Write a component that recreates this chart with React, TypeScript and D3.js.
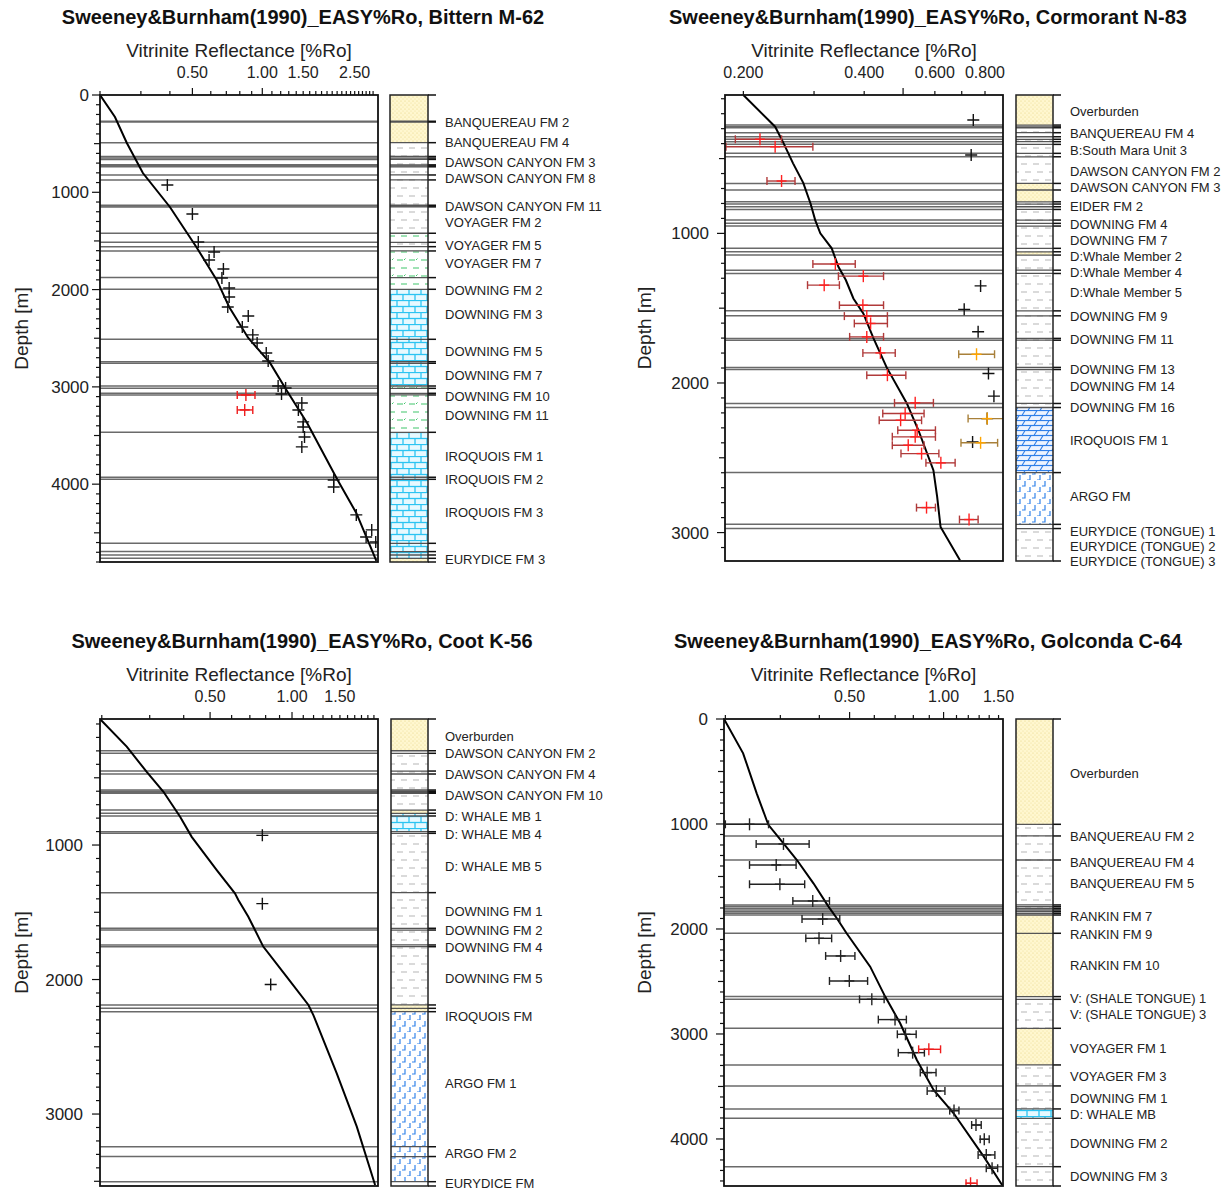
import React from "react";
import * as d3 from "d3";

const FONT = "'Liberation Sans', Arial, sans-serif";

// ---------------- Bittern M-62 ----------------
const bitternModel: [number, number][] = [
  [0, 0.2], [226, 0.232], [493, 0.261], [802, 0.306], [1151, 0.4], [1562, 0.52],
  [1901, 0.636], [2179, 0.72], [2497, 0.87], [2754, 1.08], [3032, 1.27], [3371, 1.56],
  [3957, 2.11], [4296, 2.54], [4789, 3.1],
];
const bitternSamples: [number, number][] = [
  [925, 0.39], [1223, 0.5], [1511, 0.53], [1614, 0.62], [1696, 0.59], [1789, 0.68],
  [1881, 0.67], [1984, 0.72], [2076, 0.72], [2179, 0.71], [2271, 0.87], [2384, 0.82],
  [2466, 0.91], [2549, 0.95], [2652, 1.04], [2734, 1.06], [2991, 1.17], [3011, 1.26],
  [3073, 1.21], [3165, 1.48], [3237, 1.43], [3360, 1.5], [3412, 1.5], [3515, 1.52],
  [3617, 1.48], [3957, 2.03], [4029, 2.03], [4316, 2.54], [4470, 2.96], [4543, 2.8],
  [4594, 3.08],
];
const bitternRed: [number, number, number, number][] = [
  [3083, 0.85, 0.78, 0.93], [3237, 0.84, 0.78, 0.91],
];
const bitternTops = [
  270, 278, 490, 632, 648, 662, 718, 728, 738, 822, 873, 1133, 1141, 1150, 1421, 1514,
  1559, 1603, 1877, 1997, 2511, 2741, 2757, 2991, 3015, 3066, 3083, 3467, 3929, 3950,
  4608, 4693, 4728, 4762,
];
const bitternLith: [number, number, string][] = [
  [0, 490, "sand"], [490, 1421, "shale"], [1421, 1514, "marl"], [1514, 1603, "shale"],
  [1603, 1997, "marl"], [1997, 2991, "lime"], [2991, 3467, "marl"], [3467, 4762, "lime"],
  [4762, 4800, "sand"],
];
const bitternLabels: [string, number][] = [
  ["BANQUEREAU FM 2", 285], ["BANQUEREAU FM 4", 490], ["DAWSON CANYON FM 3", 689],
  ["DAWSON CANYON FM 8", 863], ["DAWSON CANYON FM 11", 1148], ["VOYAGER FM 2", 1312],
  ["VOYAGER FM 5", 1549], ["VOYAGER FM 7", 1727], ["DOWNING FM 2", 2011],
  ["DOWNING FM 3", 2261], ["DOWNING FM 5", 2638], ["DOWNING FM 7", 2878],
  ["DOWNING FM 10", 3101], ["DOWNING FM 11", 3299], ["IROQUOIS FM 1", 3717],
  ["IROQUOIS FM 2", 3950], ["IROQUOIS FM 3", 4296], ["EURYDICE FM 3", 4779],
];

// ---------------- Cormorant N-83 ----------------
const cormorantModel: [number, number][] = [
  [75, 0.2], [287, 0.24], [398, 0.252], [532, 0.266], [662, 0.282], [800, 0.294],
  [911, 0.302], [1000, 0.311], [1100, 0.332], [1223, 0.345], [1312, 0.36], [1435, 0.376],
  [1535, 0.398], [1702, 0.422], [1896, 0.455], [2137, 0.511], [2316, 0.546], [2583, 0.595],
  [2762, 0.608], [2963, 0.62], [3185, 0.693],
];
const cormorantSamples: [number, number][] = [
  [242, 0.748], [476, 0.739], [1351, 0.78], [1508, 0.71], [1658, 0.769], [1937, 0.816],
  [2088, 0.842], [2238, 0.81], [2394, 0.745],
];
const cormorantRed: [number, number, number, number][] = [
  [371, 0.22, 0.191, 0.249], [421, 0.24, 0.181, 0.298], [650, 0.249, 0.229, 0.269],
  [1205, 0.339, 0.298, 0.38], [1286, 0.398, 0.345, 0.447], [1346, 0.318, 0.289, 0.347],
  [1480, 0.397, 0.347, 0.447], [1553, 0.406, 0.357, 0.457], [1602, 0.415, 0.378, 0.457],
  [1692, 0.406, 0.368, 0.447], [1799, 0.439, 0.397, 0.478], [1948, 0.457, 0.406, 0.508],
  [2133, 0.536, 0.476, 0.595], [2204, 0.506, 0.445, 0.564], [2249, 0.493, 0.436, 0.556],
  [2316, 0.542, 0.485, 0.602], [2360, 0.536, 0.47, 0.602], [2416, 0.515, 0.47, 0.564],
  [2472, 0.556, 0.494, 0.614], [2534, 0.621, 0.57, 0.674], [2833, 0.572, 0.54, 0.602],
  [2913, 0.73, 0.691, 0.769],
];
const cormorantOrange: [number, number, number, number][] = [
  [1808, 0.762, 0.688, 0.845], [2238, 0.81, 0.726, 0.95], [2400, 0.78, 0.697, 0.86],
];
const cormorantTops = [
  276, 288, 294, 327, 354, 371, 387, 405, 465, 488, 666, 710, 789, 804, 822, 840, 911,
  933, 951, 1100, 1123, 1145, 1246, 1268, 1518, 1551, 1702, 1714, 1896, 1910, 2137, 2164,
  2599, 2945, 2973,
];
const cormorantLith: [number, number, string][] = [
  [75, 276, "sand"], [276, 666, "shale"], [666, 789, "sand"], [789, 1123, "shale"],
  [1123, 1145, "sand"], [1145, 2164, "shale"], [2164, 2599, "dolo"], [2599, 2945, "salt"],
  [2945, 3190, "shale"],
];
const cormorantLabels: [string, number][] = [
  ["Overburden", 187], ["BANQUEREAU FM 4", 331], ["B:South Mara Unit 3", 448],
  ["DAWSON CANYON FM 2", 588], ["DAWSON CANYON FM 3", 692], ["EIDER FM 2", 822],
  ["DOWNING FM 4", 938], ["DOWNING FM 7", 1045], ["D:Whale Member 2", 1152],
  ["D:Whale Member 4", 1264], ["D:Whale Member 5", 1397], ["DOWNING FM 9", 1558],
  ["DOWNING FM 11", 1709], ["DOWNING FM 13", 1910], ["DOWNING FM 14", 2026],
  ["DOWNING FM 16", 2164], ["IROQUOIS FM 1", 2383], ["ARGO FM", 2762],
  ["EURYDICE (TONGUE) 1", 2996], ["EURYDICE (TONGUE) 2", 3092], ["EURYDICE (TONGUE) 3", 3190],
];

// ---------------- Coot K-56 ----------------
const cootModel: [number, number][] = [
  [63, 0.197], [268, 0.247], [455, 0.292], [604, 0.337], [790, 0.388], [939, 0.428],
  [1186, 0.529], [1359, 0.617], [1409, 0.635], [1533, 0.691], [1607, 0.721], [1755, 0.784],
  [1979, 0.955], [2189, 1.149], [2264, 1.198], [2697, 1.46], [3094, 1.73], [3528, 2.02],
];
const cootSamples: [number, number][] = [[928, 0.778], [1436, 0.778], [2037, 0.835]];
const cootTops = [
  299, 318, 450, 472, 591, 600, 608, 615, 740, 764, 784, 901, 913, 1354, 1619, 1632,
  1743, 1756, 2189, 2214, 2239, 3243, 3316, 3503,
];
const cootLith: [number, number, string][] = [
  [63, 299, "sand"], [299, 740, "shale"], [740, 764, "sand"], [764, 901, "lime"],
  [901, 2189, "shale"], [2189, 2239, "sand"], [2239, 3503, "salt"], [3503, 3535, "shale"],
];
const cootLabels: [string, number][] = [
  ["Overburden", 195], ["DAWSON CANYON FM 2", 318], ["DAWSON CANYON FM 4", 472],
  ["DAWSON CANYON FM 10", 635], ["D: WHALE MB 1", 789], ["D: WHALE MB 4", 918],
  ["D: WHALE MB 5", 1161], ["DOWNING FM 1", 1496], ["DOWNING FM 2", 1632],
  ["DOWNING FM 4", 1763], ["DOWNING FM 5", 1991], ["IROQUOIS FM", 2276],
  ["ARGO FM 1", 2772], ["ARGO FM 2", 3292], ["EURYDICE FM", 3515],
];

// ---------------- Golconda C-64 ----------------
const golcondaModel: [number, number][] = [
  [0, 0.198], [327, 0.228], [708, 0.252], [962, 0.271], [1010, 0.275], [1184, 0.307],
  [1343, 0.339], [1565, 0.383], [1787, 0.428], [1898, 0.455], [2041, 0.489], [2359, 0.582],
  [2644, 0.65], [2898, 0.726], [3248, 0.821], [3533, 0.929], [3755, 1.077], [4168, 1.345],
  [4438, 1.54],
];
const golcondaBlack: [number, number, number, number][] = [
  [1003, 0.239, 0.2, 0.275], [1190, 0.307, 0.251, 0.371], [1390, 0.291, 0.239, 0.337],
  [1574, 0.299, 0.239, 0.359], [1733, 0.381, 0.329, 0.431], [1905, 0.41, 0.352, 0.465],
  [2089, 0.399, 0.362, 0.438], [2257, 0.468, 0.419, 0.52], [2495, 0.499, 0.431, 0.571],
  [2670, 0.589, 0.538, 0.645], [2863, 0.699, 0.618, 0.76], [3003, 0.755, 0.711, 0.817],
  [3178, 0.796, 0.716, 0.868], [3368, 0.886, 0.842, 0.946], [3543, 0.948, 0.886, 1.01],
  [3730, 1.08, 1.046, 1.12], [3867, 1.27, 1.23, 1.32], [4003, 1.35, 1.31, 1.4],
  [4152, 1.37, 1.29, 1.46], [4279, 1.43, 1.37, 1.49],
];
const golcondaRed: [number, number, number, number][] = [
  [3146, 0.897, 0.832, 0.978], [4422, 1.22, 1.18, 1.28],
];
const golcondaTops = [
  1003, 1114, 1343, 1771, 1787, 1803, 1819, 1835, 1851, 1867, 2041, 2644, 2670, 2946,
  3295, 3495, 3714, 3803, 4264,
];
const golcondaLith: [number, number, string][] = [
  [0, 1003, "sand"], [1003, 1867, "shale"], [1867, 2644, "sand"], [2644, 2946, "shale"],
  [2946, 3295, "sand"], [3295, 3714, "shale"], [3714, 3803, "lime"], [3803, 4448, "shale"],
];
const golcondaLabels: [string, number][] = [
  ["Overburden", 517], ["BANQUEREAU FM 2", 1121], ["BANQUEREAU FM 4", 1369],
  ["BANQUEREAU FM 5", 1571], ["RANKIN FM 7", 1883], ["RANKIN FM 9", 2057],
  ["RANKIN FM 10", 2352], ["V: (SHALE TONGUE) 1", 2660], ["V: (SHALE TONGUE) 3", 2819],
  ["VOYAGER FM 1", 3136], ["VOYAGER FM 3", 3407], ["DOWNING FM 1", 3612],
  ["D: WHALE MB", 3771], ["DOWNING FM 2", 4041], ["DOWNING FM 3", 4359],
];

// ---------------- ticks ----------------
const roMinorTicks = d3.range(2, 31).map((i) => i / 10);
const roMajorTicks = [0.5, 1.0];
const roLabels1 = [0.5, 1.0, 1.5, 2.5];
const roLabels2 = [0.2, 0.4, 0.6, 0.8];
const roLabels3 = [0.5, 1.0, 1.5];
const depthLabels1 = [0, 1000, 2000, 3000, 4000];
const depthLabels2 = [1000, 2000, 3000];

type Err = [number, number, number, number];
interface PanelCfg {
  id: string;
  title: string;
  titleX: number;
  titleY: number;
  left: number; right: number; top: number; bottom: number;
  roDomain: [number, number];
  depthDomain: [number, number];
  roLabels: number[];
  roFmt: string;
  depthLabels: number[];
  depthLabelGap: number;
  depthTitleX: number;
  colLeft: number; colRight: number; labelX: number;
  model: [number, number][];
  samples: [number, number][];
  red: Err[];
  redStyle: "dark" | "bright";
  black: Err[];
  orange: Err[];
  tops: number[];
  lith: [number, number, string][];
  labels: [string, number][];
}

const panels: PanelCfg[] = [
  {
    id: "bittern", title: "Sweeney&Burnham(1990)_EASY%Ro, Bittern M-62", titleX: 303, titleY: 24,
    left: 100, right: 378, top: 95, bottom: 562,
    roDomain: [0.2, 3.15], depthDomain: [0, 4800],
    roLabels: roLabels1, roFmt: ".2f", depthLabels: depthLabels1, depthLabelGap: 11, depthTitleX: 28,
    colLeft: 390, colRight: 428, labelX: 445,
    model: bitternModel, samples: bitternSamples, red: bitternRed, redStyle: "bright",
    black: [], orange: [], tops: bitternTops, lith: bitternLith, labels: bitternLabels,
  },
  {
    id: "cormorant", title: "Sweeney&Burnham(1990)_EASY%Ro, Cormorant N-83", titleX: 928, titleY: 24,
    left: 725, right: 1003, top: 95, bottom: 561,
    roDomain: [0.18, 0.887], depthDomain: [75, 3190],
    roLabels: roLabels2, roFmt: ".3f", depthLabels: depthLabels2, depthLabelGap: 16, depthTitleX: 651,
    colLeft: 1016, colRight: 1053, labelX: 1070,
    model: cormorantModel, samples: cormorantSamples, red: cormorantRed, redStyle: "dark",
    black: [], orange: cormorantOrange, tops: cormorantTops, lith: cormorantLith, labels: cormorantLabels,
  },
  {
    id: "coot", title: "Sweeney&Burnham(1990)_EASY%Ro, Coot K-56", titleX: 302, titleY: 648,
    left: 100, right: 378, top: 719, bottom: 1186,
    roDomain: [0.197, 2.07], depthDomain: [63, 3535],
    roLabels: roLabels3, roFmt: ".2f", depthLabels: depthLabels2, depthLabelGap: 17, depthTitleX: 28,
    colLeft: 391, colRight: 428, labelX: 445,
    model: cootModel, samples: cootSamples, red: [], redStyle: "bright",
    black: [], orange: [], tops: cootTops, lith: cootLith, labels: cootLabels,
  },
  {
    id: "golconda", title: "Sweeney&Burnham(1990)_EASY%Ro, Golconda C-64", titleX: 928, titleY: 648,
    left: 724, right: 1003, top: 719, bottom: 1186,
    roDomain: [0.198, 1.55], depthDomain: [0, 4448],
    roLabels: roLabels3, roFmt: ".2f", depthLabels: depthLabels1, depthLabelGap: 16, depthTitleX: 651,
    colLeft: 1016, colRight: 1053, labelX: 1070,
    model: golcondaModel, samples: [], red: golcondaRed, redStyle: "bright",
    black: golcondaBlack, orange: [], tops: golcondaTops, lith: golcondaLith, labels: golcondaLabels,
  },
];

const TEXT = "#222";

function ErrBar({ x, y, d, bar, center }: { x: any; y: any; d: Err; bar: string; center: string }) {
  const cy = y(d[0]);
  const cx = x(d[1]);
  const x0 = x(d[2]);
  const x1 = x(d[3]);
  return (
    <g>
      <line x1={x0} x2={x1} y1={cy} y2={cy} stroke={bar} strokeWidth={1.4} />
      <line x1={x0} x2={x0} y1={cy - 4} y2={cy + 4} stroke={bar} strokeWidth={1.4} />
      <line x1={x1} x2={x1} y1={cy - 4} y2={cy + 4} stroke={bar} strokeWidth={1.4} />
      <line x1={cx - 5} x2={cx + 5} y1={cy} y2={cy} stroke={center} strokeWidth={1.4} />
      <line x1={cx} x2={cx} y1={cy - 6} y2={cy + 6} stroke={center} strokeWidth={1.4} />
    </g>
  );
}

function Panel({ p }: { p: PanelCfg }) {
  const x = d3.scaleLog().domain(p.roDomain).range([p.left, p.right]);
  const y = d3.scaleLinear().domain(p.depthDomain).range([p.top, p.bottom]);
  const line = d3
    .line<[number, number]>()
    .x((d) => x(d[1]))
    .y((d) => y(d[0]));
  const clipId = `clip-${p.id}`;
  const fmt = d3.format(p.roFmt);
  const minor = roMinorTicks.filter((v) => v >= p.roDomain[0] && v <= p.roDomain[1]);
  const dTicks = d3
    .range(Math.ceil(p.depthDomain[0] / 100) * 100, p.depthDomain[1] + 1, 100)
    .filter((d) => d >= p.depthDomain[0]);
  const midY = (p.top + p.bottom) / 2;
  const midX = (p.left + p.right) / 2;
  const fills: Record<string, string> = {
    sand: "url(#pat-sand)",
    shale: "url(#pat-shale)",
    marl: "url(#pat-marl)",
    lime: "url(#pat-lime)",
    dolo: "url(#pat-dolo)",
    salt: "url(#pat-salt)",
  };
  return (
    <g>
      <defs>
        <clipPath id={clipId}>
          <rect x={p.left} y={p.top} width={p.right - p.left} height={p.bottom - p.top} />
        </clipPath>
      </defs>
      <text x={p.titleX} y={p.titleY} textAnchor="middle" fontFamily={FONT} fontWeight="bold" fontSize={20} fill="#111">
        {p.title}
      </text>
      <text x={midX} y={p.top - 38} textAnchor="middle" fontFamily={FONT} fontSize={19} fill={TEXT}>
        Vitrinite Reflectance [%Ro]
      </text>
      {p.roLabels.map((v) => (
        <text key={v} x={x(v)} y={p.top - 17} textAnchor="middle" fontFamily={FONT} fontSize={16} fill={TEXT}>
          {fmt(v)}
        </text>
      ))}
      <text
        transform={`translate(${p.depthTitleX},${midY}) rotate(-90)`}
        textAnchor="middle"
        fontFamily={FONT}
        fontSize={19}
        fill={TEXT}
      >
        Depth [m]
      </text>
      {p.depthLabels.map((d) => (
        <text key={d} x={p.left - p.depthLabelGap} y={y(d) + 6} textAnchor="end" fontFamily={FONT} fontSize={17} fill={TEXT}>
          {d}
        </text>
      ))}
      <rect x={p.left} y={p.top} width={p.right - p.left} height={p.bottom - p.top} fill="#fff" />
      <g clipPath={`url(#${clipId})`}>
        {p.tops.map((d, i) => (
          <line key={i} x1={p.left} x2={p.right} y1={y(d)} y2={y(d)} stroke="#6a6a6a" strokeWidth={1.5} />
        ))}
        <path d={line(p.model) || ""} fill="none" stroke="#000" strokeWidth={2} />
        {p.samples.map((s, i) => {
          const cx = x(s[1]);
          const cy = y(s[0]);
          return (
            <path key={i} d={`M${cx - 6},${cy}H${cx + 6}M${cx},${cy - 6}V${cy + 6}`} stroke="#111" strokeWidth={1.4} fill="none" />
          );
        })}
        {p.black.map((d, i) => (
          <ErrBar key={"b" + i} x={x} y={y} d={d} bar="#222" center="#222" />
        ))}
        {p.orange.map((d, i) => (
          <ErrBar key={"o" + i} x={x} y={y} d={d} bar="#a8803a" center="#ffa500" />
        ))}
        {p.red.map((d, i) => (
          <ErrBar
            key={"r" + i}
            x={x}
            y={y}
            d={d}
            bar={p.redStyle === "dark" ? "#b03a3a" : "#ee1c1c"}
            center={p.redStyle === "dark" ? "#ff2020" : "#ee1c1c"}
          />
        ))}
      </g>
      <rect x={p.left} y={p.top} width={p.right - p.left} height={p.bottom - p.top} fill="none" stroke="#111" strokeWidth={1.8} />
      {minor.map((v) => {
        const major = roMajorTicks.includes(v);
        return <line key={v} x1={x(v)} x2={x(v)} y1={p.top} y2={p.top - (major ? 7 : 4)} stroke="#111" strokeWidth={1.2} />;
      })}
      {dTicks.map((d) => {
        const len = d % 1000 === 0 ? 8 : d % 500 === 0 ? 6 : 4;
        return <line key={d} x1={p.left} x2={p.left - len} y1={y(d)} y2={y(d)} stroke="#111" strokeWidth={1.2} />;
      })}
      {p.lith.map((l, i) => (
        <rect key={i} x={p.colLeft} y={y(l[0])} width={p.colRight - p.colLeft} height={y(l[1]) - y(l[0])} fill={fills[l[2]]} />
      ))}
      {p.tops.map((d, i) => (
        <g key={i}>
          <line x1={p.colLeft} x2={p.colRight} y1={y(d)} y2={y(d)} stroke="#555" strokeWidth={1.3} />
          <line x1={p.colRight} x2={p.colRight + 8} y1={y(d)} y2={y(d)} stroke="#111" strokeWidth={1.5} />
        </g>
      ))}
      <rect x={p.colLeft} y={p.top} width={p.colRight - p.colLeft} height={p.bottom - p.top} fill="none" stroke="#222" strokeWidth={1.5} />
      <line x1={p.colRight} x2={p.colRight + 8} y1={p.top} y2={p.top} stroke="#111" strokeWidth={1.5} />
      <line x1={p.colRight} x2={p.colRight + 8} y1={p.bottom} y2={p.bottom} stroke="#111" strokeWidth={1.5} />
      {p.labels.map(([name, d]) => (
        <text key={name} x={p.labelX} y={y(d) + 4.5} fontFamily={FONT} fontSize={13} fill={TEXT}>
          {name}
        </text>
      ))}
    </g>
  );
}

export default function App() {
  return (
    <svg
      width={1229}
      height={1193}
      style={{ position: "absolute", left: 0, top: 0, background: "#fff" }}
      xmlns="http://www.w3.org/2000/svg"
    >
      <defs>
        <pattern id="pat-sand" width="4" height="4" patternUnits="userSpaceOnUse">
          <rect width="4" height="4" fill="#fff7cf" />
          <circle cx="1" cy="1" r="0.55" fill="#e6d27e" />
          <circle cx="3" cy="3" r="0.55" fill="#eddc9a" />
        </pattern>
        <pattern id="pat-shale" width="12" height="16" patternUnits="userSpaceOnUse">
          <rect width="12" height="16" fill="#fff" />
          <line x1="1" x2="7" y1="4" y2="4" stroke="#b5b5b5" strokeWidth="1" />
          <line x1="5" x2="11" y1="12" y2="12" stroke="#b5b5b5" strokeWidth="1" />
        </pattern>
        <pattern id="pat-marl" width="12" height="16" patternUnits="userSpaceOnUse">
          <rect width="12" height="16" fill="#fff" />
          <line x1="1" x2="7" y1="4" y2="4" stroke="#3fc56a" strokeWidth="1" />
          <line x1="5" x2="11" y1="12" y2="12" stroke="#3fc56a" strokeWidth="1" />
          <line x1="8" x2="9.5" y1="4" y2="2.5" stroke="#3fc56a" strokeWidth="1" />
        </pattern>
        <pattern id="pat-lime" width="12" height="12" patternUnits="userSpaceOnUse">
          <rect width="12" height="12" fill="#e7f9ff" />
          <line x1="0" x2="12" y1="0.5" y2="0.5" stroke="#2cc4f2" strokeWidth="1.3" />
          <line x1="0" x2="12" y1="6.5" y2="6.5" stroke="#2cc4f2" strokeWidth="1.3" />
          <line x1="1" x2="1" y1="0" y2="6.5" stroke="#2cc4f2" strokeWidth="1.3" />
          <line x1="7" x2="7" y1="6.5" y2="12" stroke="#2cc4f2" strokeWidth="1.3" />
        </pattern>
        <pattern id="pat-dolo" width="12" height="10" patternUnits="userSpaceOnUse">
          <rect width="12" height="10" fill="#eef4ff" />
          <line x1="0" x2="12" y1="0.5" y2="0.5" stroke="#2f7fe8" strokeWidth="1.2" />
          <line x1="0" x2="12" y1="5.5" y2="5.5" stroke="#2f7fe8" strokeWidth="1.2" />
          <line x1="2" x2="5" y1="5.5" y2="0.5" stroke="#2f7fe8" strokeWidth="1.1" />
          <line x1="8" x2="11" y1="10.5" y2="5.5" stroke="#2f7fe8" strokeWidth="1.1" />
        </pattern>
        <pattern id="pat-salt" width="10" height="12" patternUnits="userSpaceOnUse">
          <rect width="10" height="12" fill="#fff" />
          <path d="M5,1 V6 H2" stroke="#3384ea" strokeWidth="1.2" fill="none" />
          <path d="M10,7 V12 H7 M0,7 V12" stroke="#3384ea" strokeWidth="1.2" fill="none" />
        </pattern>
      </defs>
      <rect width={1229} height={1193} fill="#fff" />
      {panels.map((p) => (
        <Panel key={p.id} p={p} />
      ))}
    </svg>
  );
}
